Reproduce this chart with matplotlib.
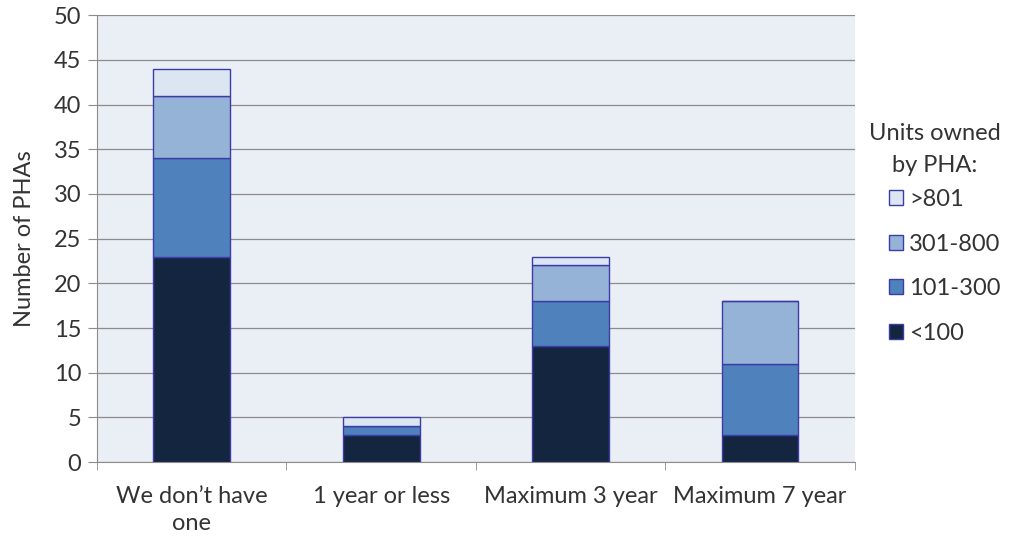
import matplotlib.pyplot as plt
import numpy as np

plt.rcParams['font.family'] = ['Lato', 'DejaVu Sans']

categories = ['We don\u2019t have\none', '1 year or less', 'Maximum 3 year', 'Maximum 7 year']
series_names = ['<100', '101-300', '301-800', '>801']
under_100 = [23, 3, 13, 3]
from_101_300 = [11, 1, 5, 8]
from_301_800 = [7, 0, 4, 7]
over_801 = [3, 1, 1, 0]
colors = ['#13253f', '#4f81bd', '#95b3d7', '#dce6f2']

FS = 17
TXT = '#333333'

fig = plt.figure(figsize=(10.13, 5.43), dpi=100)
ax = fig.add_axes([0.0958, 0.149, 0.748, 0.823])
ax.set_facecolor('#eaeef5')

x = np.arange(len(categories))
bottom = np.zeros(len(categories))
handles = []
for name, vals, col in zip(series_names, [under_100, from_101_300, from_301_800, over_801], colors):
    vals = np.array(vals)
    b = ax.bar(x, vals, 0.405, bottom=bottom, color=col, edgecolor='#3c3ca8',
               linewidth=1.0, label=name, zorder=3)
    handles.append(b)
    bottom += vals

ax.set_xlim(-0.5, 3.5)
ax.set_ylim(0, 50)
ax.set_yticks(range(0, 51, 5))
ax.yaxis.grid(True, color='#8c8c8c', linewidth=0.9, zorder=0)
ax.set_axisbelow(True)

ax.set_xticks(x)
ax.set_xticklabels(categories, fontsize=FS, color=TXT, linespacing=1.35)
ax.tick_params(axis='x', length=0, pad=17)
ax.set_xticks(np.arange(-0.5, 4.0, 1.0), minor=True)
ax.tick_params(axis='x', which='minor', length=6, color='#8c8c8c')
ax.tick_params(axis='y', labelsize=FS, labelcolor=TXT, length=6.5, color='#8c8c8c', pad=5)

for s in ['top', 'right']:
    ax.spines[s].set_visible(False)
ax.spines['left'].set_color('#8c8c8c')
ax.spines['bottom'].set_color('#8c8c8c')

ax.set_ylabel('Number of PHAs', fontsize=FS, color=TXT, labelpad=13)

fig.text(935 / 1013, 1 - 133 / 543, 'Units owned', fontsize=FS, color=TXT, ha='center', va='center')
fig.text(935 / 1013, 1 - 165 / 543, 'by PHA:', fontsize=FS, color=TXT, ha='center', va='center')

leg = fig.legend(handles[::-1], series_names[::-1], loc='center left',
                 bbox_to_anchor=(889 / 1013, 1 - 266.5 / 543), frameon=False,
                 fontsize=FS, handlelength=0.6, handleheight=0.6, borderpad=0,
                 borderaxespad=0, handletextpad=0.25, labelspacing=1.0)
for t in leg.get_texts():
    t.set_color(TXT)

fig.savefig('out.png', dpi=100)
